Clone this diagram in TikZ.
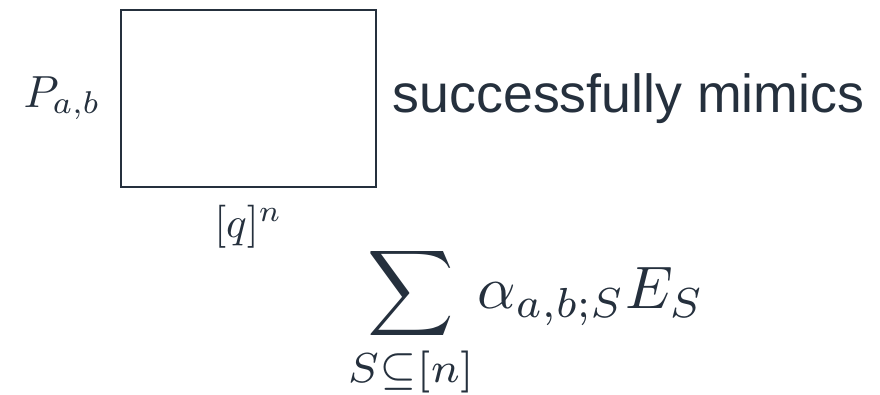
\documentclass[tikz,border=0pt]{standalone}
\usepackage{amsmath}
\usepackage{graphicx}
\usepackage{fontspec}
\setsansfont{Liberation Sans}
\usepackage{xcolor}
\usetikzlibrary{positioning}
\definecolor{ink}{HTML}{25303D}
\newcommand{\bigmath}[2]{\scalebox{#1}{$#2$}}

\begin{document}
\begin{tikzpicture}[x=1pt, y=-1pt,
    every node/.style={text=ink, inner sep=0pt},
    grid/.style={draw=ink, line width=1.6pt, minimum width=255pt, minimum height=177pt},
    words/.style={font=\fontsize{53.7}{60}\selectfont\sffamily}
]
\useasboundingbox (0,0) rectangle (880,394);
% the table and its labels
\node[grid, anchor=north west] (table) at (120,9) {};
\node[left=19pt of table] (prob) {\bigmath{4.5}{P_{a,b}}};
\node[words, right=16pt of table] (mimic) {successfully mimics};
\node[below=17pt of table] (dom) {\bigmath{4.3}{[q]^n}};

% Fourier expansion
\node (sum) at (526,322) {\bigmath{6.0}{\displaystyle\sum_{S\subseteq[n]}\mkern-2mu\alpha_{a,b;S}E_S}};
\end{tikzpicture}
\end{document}
